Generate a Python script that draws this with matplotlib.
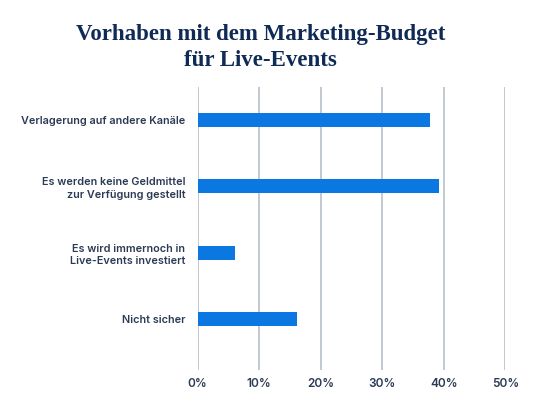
import matplotlib
matplotlib.use("Agg")
import matplotlib.pyplot as plt
import matplotlib.transforms as mtransforms

categories = [
    "Verlagerung auf andere Kanäle",
    "Es werden keine Geldmittel\nzur Verfügung gestellt",
    "Es wird immernoch in\nLive-Events investiert",
    "Nicht sicher",
]
values = [37.8, 39.3, 6.0, 16.2]
xticks = [0, 10, 20, 30, 40, 50]
xticklabels = ["0%", "10%", "20%", "30%", "40%", "50%"]
title_lines = ["Vorhaben mit dem Marketing-Budget", "für Live-Events"]

bar_color = "#0a78e0"
text_color = "#2b3a55"
grid_color = "#b9c0ca"
title_color = "#0f2a55"

fig = plt.figure(figsize=(5.4, 4.17), dpi=100)
ax = fig.add_axes([0.366, 0.1127, 0.5697, 0.6786])

ypos = list(range(len(categories)))
ax.barh(ypos, values, height=0.21, color=bar_color, zorder=3)
ax.set_xlim(0, 50)
ax.set_ylim(3.77, -0.5)
ax.set_xticks(xticks)
ax.set_xticklabels(xticklabels)
ax.set_yticks(ypos)
ax.set_yticklabels(categories, ha="right", multialignment="right")
offset = mtransforms.ScaledTranslation(0, 2 / 100, fig.dpi_scale_trans)
for lbl in ax.get_yticklabels():
    lbl.set_fontfamily("Inter")
    lbl.set_fontweight("semibold")
    lbl.set_fontsize(7.8)
    lbl.set_color(text_color)
    lbl.set_linespacing(1.3)
    lbl.set_transform(lbl.get_transform() + offset)
for lbl in ax.get_xticklabels():
    lbl.set_fontfamily("Inter")
    lbl.set_fontweight("semibold")
    lbl.set_fontsize(8.5)
    lbl.set_color(text_color)
ax.tick_params(axis="both", length=0)
ax.tick_params(axis="x", pad=6)
ax.tick_params(axis="y", pad=9)
ax.grid(axis="x", color=grid_color, linewidth=1.2, zorder=0)
for s in ax.spines.values():
    s.set_visible(False)

for i, (line, yb) in enumerate(zip(title_lines, [0.904, 0.842])):
    fig.text(0.482, yb, line, ha="center", va="baseline", fontsize=16.5,
             fontweight="bold", family="Liberation Serif", color=title_color)

fig.savefig("out.png", dpi=100, facecolor="white")
